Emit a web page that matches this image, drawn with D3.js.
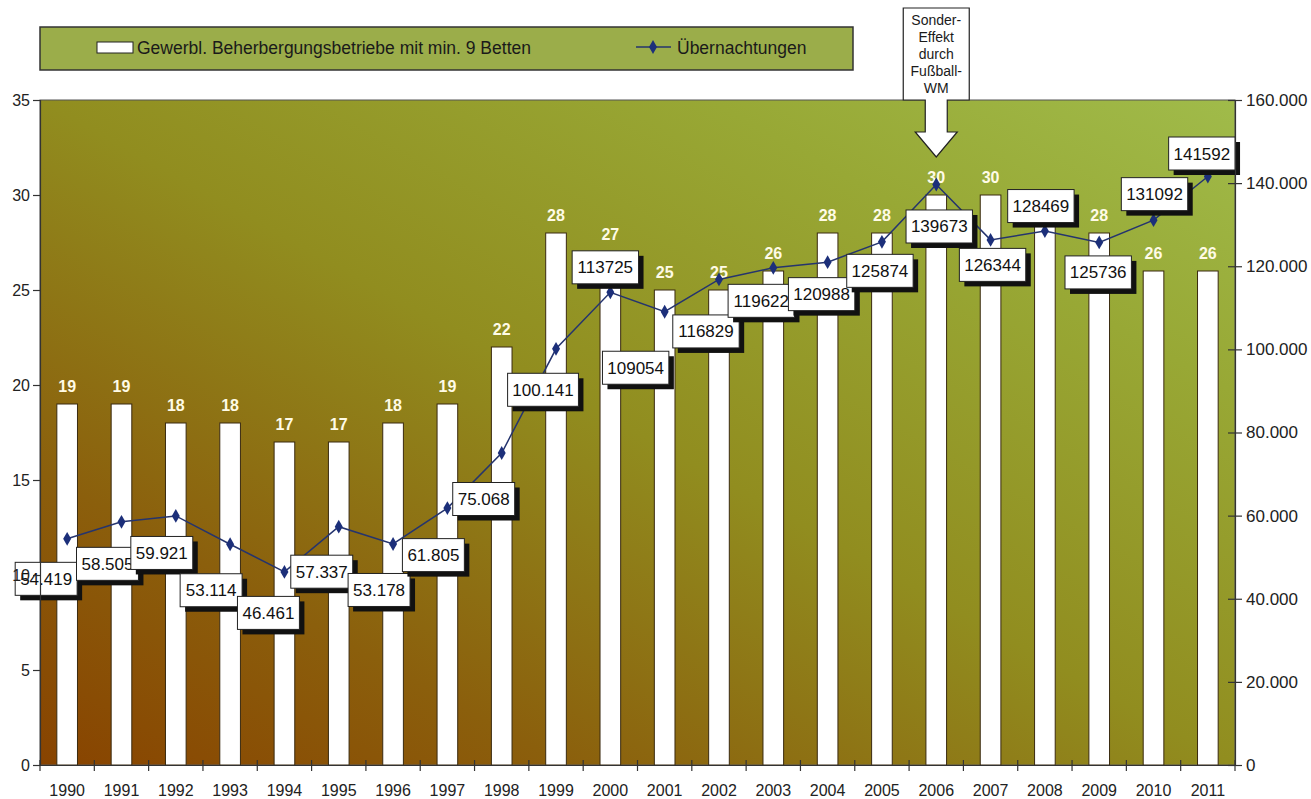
<!DOCTYPE html>
<html>
<head>
<meta charset="utf-8">
<script src="https://cdn.jsdelivr.net/npm/d3@7"></script>
<style>
  html, body { margin: 0; padding: 0; background: #fff; }
  svg { display: block; font-family: "Liberation Sans", Arial, sans-serif; }
</style>
</head>
<body>
<svg id="chart" width="1311" height="799"></svg>
<script>
// ---- data ----
const years = ["1990","1991","1992","1993","1994","1995","1996","1997","1998","1999","2000",
               "2001","2002","2003","2004","2005","2006","2007","2008","2009","2010","2011"];
const betriebe = [19,19,18,18,17,17,18,19,22,28,27,25,25,26,28,28,30,30,29,28,26,26];
// bar value labels as visible in the reference (2008 label is hidden behind a value box)
const barLabels = ["19","19","18","18","17","17","18","19","22","28","27","25","25","26","28","28","30","30","","28","26","26"];
const uebernachtungen = [54419,58505,59921,53114,46461,57337,53178,61805,75068,100141,113725,
                         109054,116829,119622,120988,125874,139673,126344,128469,125736,131092,141592];
const leftTicks = [0,5,10,15,20,25,30,35];
const rightTicks = [0,20000,40000,60000,80000,100000,120000,140000,160000];
const legendLabels = ["Gewerbl. Beherbergungsbetriebe mit min. 9 Betten", "Übernachtungen"];
const calloutLines = ["Sonder-","Effekt","durch","Fußball-","WM"];
const calloutYear = "2006";
// label box offsets relative to each line point (layout only)
const labelOffsets = [[-21,40],[-14,42],[-14,37],[-19,46],[-16,41],[-17,45],[-14,46],[-14,47],
  [-18,46],[-13,41],[-5,-25],[-29,56],[-13,52],[-12,33],[-6,32],[-2,29],[3,42],[2,25],
  [-4,-25],[-1,30],[1,-26],[-6,-23]];

(function () {
const svg = d3.select("#chart");
const L = 40, R = 1235, T = 100, B = 765;

const x = d3.scaleBand().domain(years).range([L, R]).paddingInner(0).paddingOuter(0);
const yL = d3.scaleLinear().domain([0, 35]).range([B, T]);
const yR = d3.scaleLinear().domain([0, 160000]).range([B, T]);

// gradient
const defs = svg.append("defs");
const grad = defs.append("linearGradient").attr("id", "bg")
  .attr("x1", 0).attr("y1", 1).attr("x2", 1).attr("y2", 0);
[[0,"#884300"],[0.22,"#8b5f0c"],[0.5,"#918d1f"],[0.78,"#98a835"],[1,"#a0bb4a"]]
  .forEach(s => grad.append("stop").attr("offset", s[0]).attr("stop-color", s[1]));

svg.append("rect").attr("x", L).attr("y", T).attr("width", R - L).attr("height", B - T)
  .attr("fill", "url(#bg)").attr("stroke", "#555").attr("stroke-width", 1);

// bars
const bw = x.bandwidth() * 0.38;
svg.append("g").selectAll("rect").data(years).join("rect")
  .attr("x", d => x(d) + x.bandwidth() / 2 - bw / 2)
  .attr("y", (d, i) => yL(betriebe[i]))
  .attr("width", bw)
  .attr("height", (d, i) => B - yL(betriebe[i]))
  .attr("fill", "#fff").attr("stroke", "#3a2a10").attr("stroke-width", 1);

// bar value labels
svg.append("g").selectAll("text").data(years).join("text")
  .attr("x", d => x(d) + x.bandwidth() / 2)
  .attr("y", (d, i) => yL(betriebe[i]) - 12)
  .attr("text-anchor", "middle")
  .attr("font-size", 16).attr("font-weight", "bold").attr("fill", "#fffbe6")
  .text((d, i) => barLabels[i]);

// line
const cx = d => x(d) + x.bandwidth() / 2;
const line = d3.line().x((d, i) => cx(years[i])).y(d => yR(d));
svg.append("path").datum(uebernachtungen).attr("d", line)
  .attr("fill", "none").attr("stroke", "#25346e").attr("stroke-width", 1.5);
const diamond = d3.symbol().type(d3.symbolDiamond).size(55);
svg.append("g").selectAll("path").data(uebernachtungen).join("path")
  .attr("transform", (d, i) => `translate(${cx(years[i])},${yR(d)})`)
  .attr("d", diamond).attr("fill", "#1c2f7a");

// value boxes
const deFmt = v => d3.format(",")(v).replace(/,/g, ".");
const boxG = svg.append("g");
uebernachtungen.forEach((v, i) => {
  const label = +years[i] < 2000 ? deFmt(v) : String(v);
  const px = cx(years[i]) + labelOffsets[i][0];
  const py = yR(v) + labelOffsets[i][1];
  const w = label.length * 8.9 + (label.includes(".") ? -4.45 : 0) + 13;
  const h = 33;
  const g = boxG.append("g");
  g.append("rect").attr("x", px - w / 2 + 5).attr("y", py - h / 2 + 5).attr("width", w).attr("height", h)
    .attr("fill", "#111");
  g.append("rect").attr("x", px - w / 2).attr("y", py - h / 2).attr("width", w).attr("height", h)
    .attr("fill", "#fff").attr("stroke", "#222").attr("stroke-width", 1);
  g.append("text").attr("x", px).attr("y", py + 6).attr("text-anchor", "middle")
    .attr("font-size", 17).attr("fill", "#111").text(label);
});

// axes
const axL = svg.append("g").attr("transform", `translate(${L},0)`)
  .call(d3.axisLeft(yL).tickValues(leftTicks).tickSize(7).tickPadding(3).tickFormat(d3.format("d")));
const axR = svg.append("g").attr("transform", `translate(${R},0)`)
  .call(d3.axisRight(yR).tickValues(rightTicks).tickSize(7).tickPadding(4).tickFormat(deFmt));
axR.selectAll(".tick line").attr("x1", -7);
const axB = svg.append("g").attr("transform", `translate(0,${B})`)
  .call(d3.axisBottom(x).tickSize(0).tickPadding(20));
// boundary ticks on bottom axis
svg.append("g").selectAll("line").data(years.concat(["end"])).join("line")
  .attr("x1", (d, i) => L + i * x.bandwidth()).attr("x2", (d, i) => L + i * x.bandwidth())
  .attr("y1", B - 5).attr("y2", B + 6).attr("stroke", "#333").attr("stroke-width", 1.2);
[axL, axR, axB].forEach(a => {
  a.selectAll(".domain").attr("stroke", "#333").attr("stroke-width", 1.2);
  a.selectAll(".tick line").attr("stroke", "#333").attr("stroke-width", 1.2);
  a.selectAll("text").attr("font-size", 16).attr("fill", "#222")
    .attr("font-family", "'Liberation Sans', Arial, sans-serif");
});
axR.selectAll("text").attr("font-size", 17);

// legend
const lg = svg.append("g");
lg.append("rect").attr("x", 40).attr("y", 27).attr("width", 813).attr("height", 43)
  .attr("fill", "#9bad4a").attr("stroke", "#333").attr("stroke-width", 1.5);
lg.append("rect").attr("x", 97).attr("y", 42).attr("width", 36).attr("height", 11)
  .attr("fill", "#fff").attr("stroke", "#222").attr("stroke-width", 1);
lg.append("text").attr("x", 137).attr("y", 54).attr("font-size", 17.5).attr("fill", "#1a1a1a")
  .text(legendLabels[0]);
lg.append("line").attr("x1", 636).attr("x2", 671).attr("y1", 47).attr("y2", 47)
  .attr("stroke", "#25346e").attr("stroke-width", 1.5);
lg.append("path").attr("transform", "translate(653,47)").attr("d", diamond).attr("fill", "#1c2f7a");
lg.append("text").attr("x", 677).attr("y", 54).attr("font-size", 17.5).attr("fill", "#1a1a1a")
  .text(legendLabels[1]);

// callout arrow
const ax = cx(calloutYear);
const boxTop = 8, boxB = 100, headY = 132, tipY = 157;
const pts = [[ax - 33, boxTop], [ax + 33, boxTop], [ax + 33, boxB], [ax + 11, boxB], [ax + 11, headY],
  [ax + 21, headY], [ax, tipY], [ax - 21, headY], [ax - 11, headY], [ax - 11, boxB], [ax - 33, boxB]];
svg.append("path").attr("d", d3.line()(pts) + "Z")
  .attr("fill", "#fff").attr("stroke", "#222").attr("stroke-width", 1.2);
svg.append("g").selectAll("text").data(calloutLines).join("text")
  .attr("x", ax).attr("y", (d, i) => 25 + i * 17)
  .attr("text-anchor", "middle").attr("font-size", 14).attr("fill", "#1a1a1a").text(d => d);
})();
</script>
</body>
</html>
